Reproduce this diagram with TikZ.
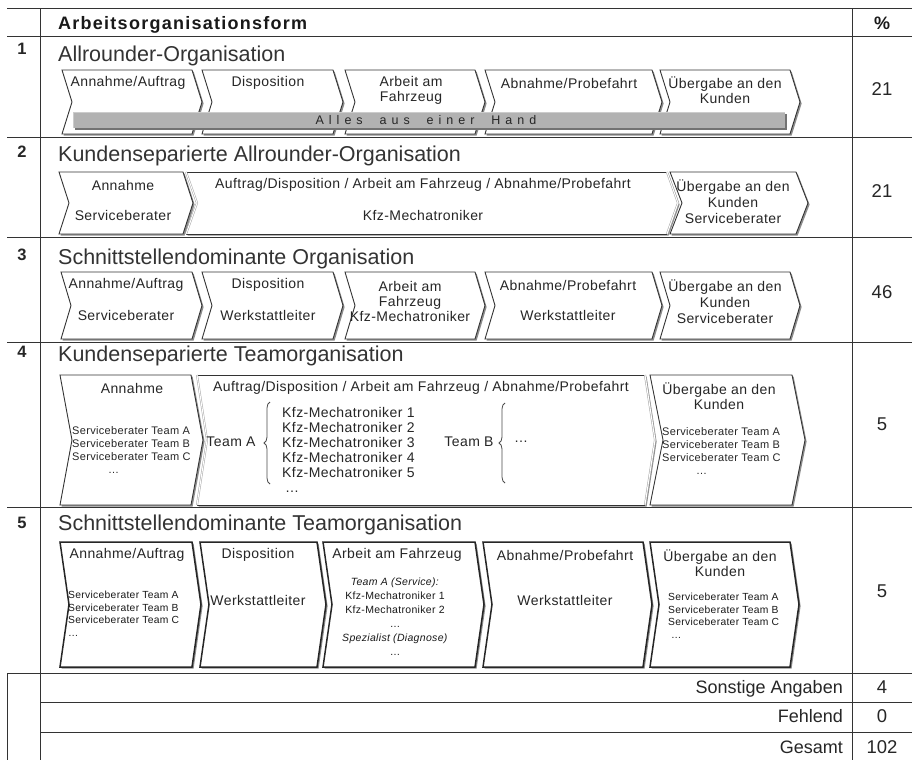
\documentclass[tikz,border=0pt]{standalone}
\usepackage{fontspec}
\setmainfont{Liberation Sans}
\newfontfamily\chevfont[LetterSpace=3]{Liberation Sans}
\newfontfamily\headfont[LetterSpace=7]{Liberation Sans}
\newfontfamily\barfont[LetterSpace=40]{Liberation Sans}
\usetikzlibrary{shadows,decorations.pathreplacing}

% process step: [style]{x left}{x right}{top}{bottom}{tip depth}
\newcommand\procchev[6][]{%
  \draw[chevbox,#1] (#2,#4) -- (#3,#4) -- ({#3+#6},{(#4+#5)/2}) -- (#3,#5)
    -- (#2,#5) -- ({#2+#6},{(#4+#5)/2}) -- cycle;}

% merged step with soft left and right edges: {x left}{x right}{top}{bottom}{tip depth}
\newcommand\procblock[5]{%
  \fill[white,shadowed] (#1,#3) -- (#2,#3) -- ({#2+#5},{(#3+#4)/2}) -- (#2,#4)
    -- (#1,#4) -- ({#1+#5},{(#3+#4)/2}) -- cycle;
  \draw[chevline] (#1,#3) -- (#2,#3) (#1,#4) -- (#2,#4);
  \draw[softedge] (#1,#3) -- ({#1+#5},{(#3+#4)/2}) -- (#1,#4);
  \draw[softedge] (#2,#3) -- ({#2+#5},{(#3+#4)/2}) -- (#2,#4);}

\begin{document}
\begin{tikzpicture}[x=1pt,y=-1pt,
  grid/.style={draw=black!80,line width=1pt},
  shadowed/.style={drop shadow={shadow xshift=1.6pt,shadow yshift=-1.6pt,fill=black!45,opacity=1}},
  chevline/.style={draw=black!80,line width=0.9pt},
  chevbox/.style={chevline,fill=white,shadowed,line join=miter},
  heavy/.style={line width=1.5pt,draw=black!85},
  softedge/.style={draw=black!35,line width=0.5pt,double=white,double distance=1pt},
  ctext/.style={font=\fontsize{14}{15}\chevfont,text=black!85,inner sep=0pt,align=center},
  stext/.style={font=\fontsize{11}{13.2}\chevfont,text=black!85,inner sep=0pt,align=left,anchor=west},
  ttext/.style={font=\fontsize{10.3}{12.5}\chevfont,text=black!90,inner sep=0pt,align=left,anchor=west},
  title/.style={font=\fontsize{21.5}{24}\selectfont,text=black!80,anchor=base west,inner sep=0pt},
  rownum/.style={font=\fontsize{16.5}{16.5}\selectfont\bfseries,text=black!85,anchor=base,inner sep=0pt},
  pct/.style={font=\fontsize{18.5}{20}\selectfont,text=black!85,anchor=base,inner sep=0pt},
  foot/.style={font=\fontsize{18}{20}\selectfont,text=black!85,anchor=base east,inner sep=0pt},
  bracestyle/.style={draw=black!70,line width=0.8pt,decorate,decoration={brace,amplitude=6pt}}]
\useasboundingbox (0,0) rectangle (912,760);
\fill[white] (0,0) rectangle (912,760);

% ---------- table rules ----------
\foreach \yy in {9,37,137,237,342,507,673}
  \draw[grid] (7,\yy) -- (912,\yy);
\draw[grid] (40.5,702) -- (912,702);
\draw[grid] (40.5,732) -- (912,732);
\draw[grid] (40.5,9) -- (40.5,760);
\draw[grid] (852,9) -- (852,760);
\draw[grid] (7,673) -- (7,760);

% ---------- header ----------
\node[font=\fontsize{18}{20}\headfont\bfseries,text=black!90,anchor=base west,inner sep=0pt] (head) at (58,30) {Arbeitsorganisationsform};
\node[font=\fontsize{18}{20}\selectfont\bfseries,text=black!90,anchor=base,inner sep=0pt] (headpct) at (882,30) {\%};

% ---------- row numbers, titles, shares ----------
\node[rownum] (n1) at (22,55) {1};
\node[rownum] (n2) at (22,157) {2};
\node[rownum] (n3) at (22,260) {3};
\node[rownum] (n4) at (22,357) {4};
\node[rownum] (n5) at (22,528) {5};

\node[title] (t1) at (58,61) {Allrounder-Organisation};
\node[title] (t2) at (58,161) {Kundenseparierte Allrounder-Organisation};
\node[title] (t3) at (58,264) {Schnittstellendominante Organisation};
\node[title] (t4) at (58,361) {Kundenseparierte Teamorganisation};
\node[title] (t5) at (58,530) {Schnittstellendominante Teamorganisation};

\node[pct] (p1) at (882,95) {21};
\node[pct] (p2) at (882,197) {21};
\node[pct] (p3) at (882,298) {46};
\node[pct] (p4) at (882,430) {5};
\node[pct] (p5) at (882,597) {5};

% ---------- row 1 ----------
\procchev{62}{192}{70}{134}{10}
\procchev{202}{333}{70}{134}{10}
\procchev{345}{475}{70}{134}{10}
\procchev{485}{652}{70}{134}{10}
\procchev{660}{790}{70}{134}{10}
\node[ctext] (r1a) at (128,83) {Annahme/Auftrag};
\node[ctext] (r1b) at (268,83) {Disposition};
\node[ctext] (r1c) at (411,90) {Arbeit am\\Fahrzeug};
\node[ctext] (r1d) at (569,83) {Abnahme/Probefahrt};
\node[ctext] (r1e) at (725,90) {Übergabe an den\\Kunden};
\fill[black!55] (75,114) rectangle (787,130);
\fill[black!30] (73,112) rectangle (785,128);
\draw[black!20,line width=0.6pt] (73,128) -- (73,112) -- (785,112);
\node[font=\fontsize{12.5}{12.5}\barfont,text=black!85,inner sep=0pt] (r1bar) at (426,120.5) {Alles\ \ aus\ \ einer\ \ Hand};

% ---------- row 2 ----------
\procblock{186}{667}{172}{234}{11}
\procchev{59}{183}{172}{234}{10}
\procchev{670}{796}{172}{234}{12}
\node[ctext] (r2a) at (123,185) {Annahme};
\node[ctext] (r2a2) at (123,215) {Serviceberater};
\node[ctext] (r2b) at (423,185) {Auftrag/Disposition / Arbeit am Fahrzeug / Abnahme/Probefahrt};
\node[ctext] (r2b2) at (423,215) {Kfz-Mechatroniker};
\node[ctext,font=\fontsize{14}{16}\chevfont] (r2c) at (733,202) {Übergabe an den\\Kunden\\Serviceberater};

% ---------- row 3 ----------
\procchev{61}{192}{272}{339}{10}
\procchev{202}{333}{272}{339}{10}
\procchev{345}{475}{272}{339}{10}
\procchev{485}{652}{272}{339}{10}
\procchev{660}{790}{272}{339}{10}
\node[ctext] (r3a) at (126,285) {Annahme/Auftrag};
\node[ctext] (r3a2) at (126,315) {Serviceberater};
\node[ctext] (r3b) at (268,285) {Disposition};
\node[ctext] (r3b2) at (268,315) {Werkstattleiter};
\node[ctext] (r3c) at (410,301) {Arbeit am\\Fahrzeug\\Kfz-Mechatroniker};
\node[ctext] (r3d) at (568,285) {Abnahme/Probefahrt};
\node[ctext] (r3d2) at (568,315) {Werkstattleiter};
\node[ctext,font=\fontsize{14}{16}\chevfont] (r3e) at (725,302) {Übergabe an den\\Kunden\\Serviceberater};

% ---------- row 4 ----------
\procblock{197}{645}{375}{505}{10}
\procchev{60}{191}{375}{505}{12}
\procchev{650}{792}{375}{505}{13}
\node[ctext] (r4a) at (132,388) {Annahme};
\node[stext] (r4a2) at (72,450) {Serviceberater Team A\\Serviceberater Team B\\Serviceberater Team C\\\hspace*{36pt}\dots};
\node[ctext] (r4b) at (421,388) {Auftrag/Disposition / Arbeit am Fahrzeug / Abnahme/Probefahrt};
\node[ctext] (r4teamA) at (231,442) {Team A};
\draw[bracestyle] (270,484) -- (270,402);
\node[ctext,align=left,anchor=west] (r4kfz) at (282,450) {Kfz-Mechatroniker 1\\Kfz-Mechatroniker 2\\Kfz-Mechatroniker 3\\Kfz-Mechatroniker 4\\Kfz-Mechatroniker 5\\\hspace*{3pt}\dots};
\node[ctext] (r4teamB) at (469,442) {Team B};
\draw[bracestyle] (505,483) -- (505,403);
\node[ctext,anchor=west] (r4dots) at (514,442) {\dots};
\node[ctext] (r4c) at (719,396) {Übergabe an den\\Kunden};
\node[stext] (r4c2) at (662,451) {Serviceberater Team A\\Serviceberater Team B\\Serviceberater Team C\\\hspace*{34pt}\dots};

% ---------- row 5 ----------
\procchev[heavy]{60}{192}{542}{667}{9}
\procchev[heavy]{200}{317}{542}{667}{9}
\procchev[heavy]{323}{475}{542}{667}{9}
\procchev[heavy]{483}{643}{542}{667}{9}
\procchev[heavy]{650}{790}{542}{667}{9}
\node[ctext] (r5a) at (127,555) {Annahme/Auftrag};
\node[ttext] (r5a2) at (68,614) {Serviceberater Team A\\Serviceberater Team B\\Serviceberater Team C\\\dots};
\node[ctext] (r5b) at (258,555) {Disposition};
\node[ctext] (r5b2) at (258,600) {Werkstattleiter};
\node[ctext] (r5c) at (397,555) {Arbeit am Fahrzeug};
\node[ttext,align=center,anchor=center,font=\fontsize{10.5}{14}\chevfont] (r5c2) at (395,617) {\textit{Team A (Service):}\\Kfz-Mechatroniker 1\\Kfz-Mechatroniker 2\\\dots\\\textit{Spezialist (Diagnose)}\\\dots};
\node[ctext] (r5d) at (565,555) {Abnahme/Probefahrt};
\node[ctext] (r5d2) at (565,600) {Werkstattleiter};
\node[ctext] (r5e) at (720,563) {Übergabe an den\\Kunden};
\node[ttext] (r5e2) at (668,616) {Serviceberater Team A\\Serviceberater Team B\\Serviceberater Team C\\\hspace*{3pt}\dots};

% ---------- summary rows ----------
\node[foot] (s1) at (843,693) {Sonstige Angaben};
\node[pct] (s1v) at (882,693) {4};
\node[foot] (s2) at (843,722) {Fehlend};
\node[pct] (s2v) at (882,722) {0};
\node[foot] (s3) at (843,753) {Gesamt};
\node[pct] (s3v) at (882,753) {102};
\end{tikzpicture}
\end{document}
